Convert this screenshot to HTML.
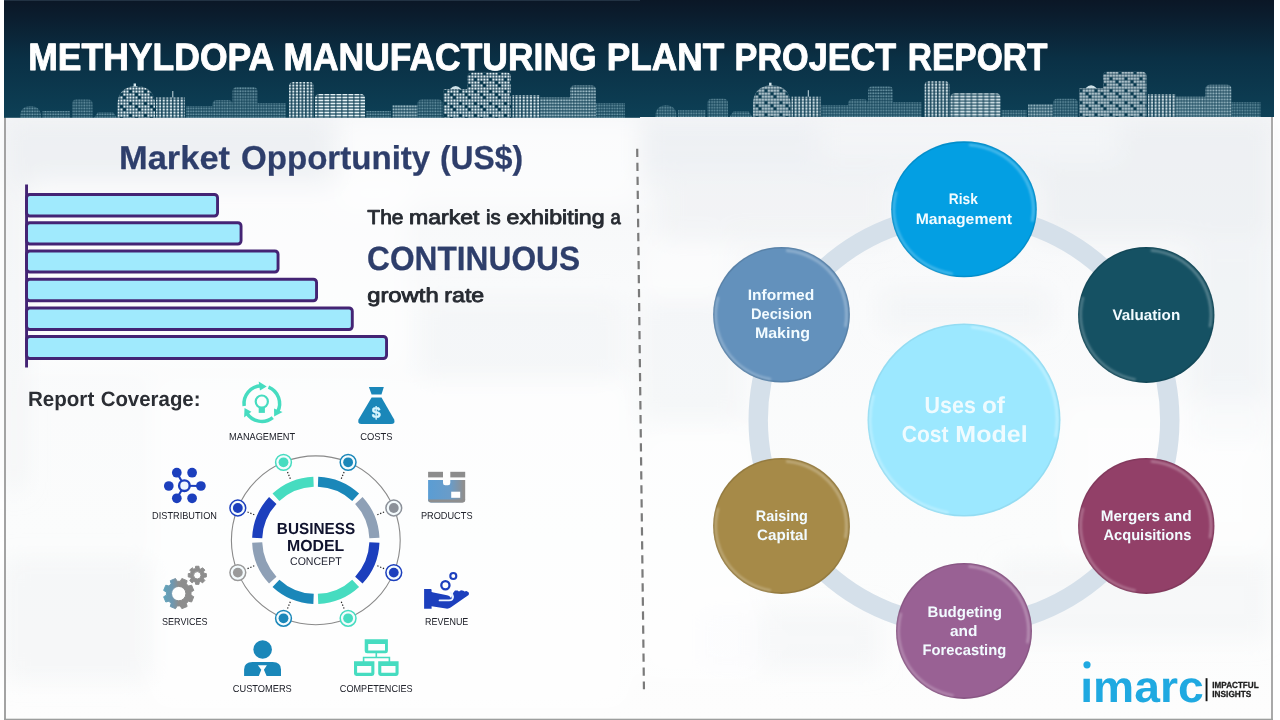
<!DOCTYPE html>
<html lang="en"><head><meta charset="utf-8"><title>Methyldopa Manufacturing Plant Project Report</title>
<style>html,body{margin:0;padding:0;background:#fff;overflow:hidden}svg{display:block}</style></head>
<body>
<svg width="1280" height="720" viewBox="0 0 1280 720" style="will-change:transform" text-rendering="geometricPrecision" font-family="'Liberation Sans', sans-serif">
<defs>
<linearGradient id="hdr" x1="0" y1="0" x2="0" y2="1">
 <stop offset="0" stop-color="#0b1726"/>
 <stop offset="0.14" stop-color="#0b1d2e"/>
 <stop offset="0.5" stop-color="#0a3045"/>
 <stop offset="1" stop-color="#0d4056"/>
</linearGradient>
<pattern id="winB" width="3" height="3" patternUnits="userSpaceOnUse"><rect x="0.4" y="0.5" width="2.1" height="2.1" fill="#e6f2f6"/></pattern>
<pattern id="winB2" width="15" height="12" patternUnits="userSpaceOnUse"><rect x="3" y="0" width="3" height="3" fill="#0d3d52"/><rect x="9" y="6" width="3" height="3" fill="#0d3d52"/><rect x="0" y="9" width="3" height="3" fill="#0d3d52"/></pattern>
<pattern id="winC" width="3.6" height="3" patternUnits="userSpaceOnUse"><rect x="0.6" y="0.5" width="2.2" height="2.1" fill="#dcebf0"/></pattern>
<pattern id="winS" width="6" height="3" patternUnits="userSpaceOnUse"><rect x="0.4" y="0.6" width="5" height="1.8" fill="#e4f1f5"/></pattern>
<pattern id="winD" width="2.6" height="2.9" patternUnits="userSpaceOnUse"><rect x="0.3" y="0.4" width="1.8" height="1.8" fill="#86afbd"/></pattern>
<pattern id="winM" width="2.8" height="3" patternUnits="userSpaceOnUse"><rect x="0.3" y="0.4" width="2" height="2" fill="#b4d0d9"/></pattern>

<linearGradient id="boxg" x1="0" y1="0" x2="1" y2="0"><stop offset="0" stop-color="#5a9dd4"/><stop offset="0.6" stop-color="#6a9cc8"/><stop offset="0.85" stop-color="#8393a2"/><stop offset="0.95" stop-color="#8f8f8f"/><stop offset="1" stop-color="#8f8f8f"/></linearGradient>
<linearGradient id="gearg" x1="0" y1="0" x2="1" y2="0"><stop offset="0" stop-color="#5fa3ba"/><stop offset="0.3" stop-color="#6f97b0"/><stop offset="0.5" stop-color="#8d8d8d"/><stop offset="1" stop-color="#8d8d8d"/></linearGradient>

<linearGradient id="bgg" x1="0" y1="0" x2="0" y2="1">
 <stop offset="0.16" stop-color="#f5f6f8"/><stop offset="0.4" stop-color="#f9fafb"/><stop offset="0.75" stop-color="#fbfcfc"/><stop offset="1" stop-color="#fdfdfd"/>
</linearGradient>
<filter id="blur6" x="-20%" y="-20%" width="140%" height="140%"><feGaussianBlur stdDeviation="12"/></filter>
<filter id="blur1" x="-10%" y="-10%" width="120%" height="120%"><feGaussianBlur stdDeviation="1.1"/></filter>
<g id="skyline"><path d="M20 117.8V116.5C20 109.675 24.2 106 30.5 106C36.8 106 41 109.675 41 116.5V117.8Z" fill="url(#winD)" opacity="0.8"/><path d="M42.5 117.8V111H70V117.8Z" fill="url(#winD)" opacity="0.8"/><path d="M72 117.8V104.0Q72 99.5 76.5 99.5H88.0Q92.5 99.5 92.5 104.0V117.8Z" fill="url(#winD)" opacity="0.8"/><path d="M94 117.8L98 112H113L117 117.8Z" fill="url(#winD)" opacity="0.8"/><path d="M117.5 117.8V104.75C117.5 92.5625 125.0 86 136.25 86C147.5 86 155 92.5625 155 104.75V117.8Z" fill="url(#winB)"/><path d="M117.5 117.8V104.75C117.5 92.5625 125.0 86 136.25 86C147.5 86 155 92.5625 155 104.75V117.8Z" fill="url(#winB2)"/><path d="M156 117.8V97.5H185V117.8Z" fill="url(#winC)"/><path d="M186 117.8V106H212.5V117.8Z" fill="url(#winD)" opacity="0.8"/><path d="M212.5 117.8V104.5Q212.5 100 217.0 100H228.0Q232.5 100 232.5 104.5V117.8Z" fill="url(#winD)" opacity="0.8"/><path d="M232.5 117.8V91.5Q232.5 87 237.0 87H253.0Q257.5 87 257.5 91.5V117.8Z" fill="url(#winD)" opacity="0.8"/><path d="M257.5 117.8V103H286V117.8Z" fill="url(#winD)" opacity="0.8"/><path d="M289 117.8V86.5Q289 82 293.5 82H309.5Q314 82 314 86.5V117.8Z" fill="url(#winC)"/><path d="M315 117.8V98.5Q315 94 319.5 94H360.5Q365 94 365 98.5V117.8Z" fill="url(#winS)"/><path d="M366 117.8V111H391V117.8Z" fill="url(#winD)" opacity="0.8"/><path d="M392.5 117.8V105H417.5V117.8Z" fill="url(#winM)" opacity="0.9"/><path d="M417.5 117.8V104.0Q417.5 99.5 422.0 99.5H438.0Q442.5 99.5 442.5 104.0V117.8Z" fill="url(#winD)" opacity="0.8"/><path d="M443.75 117.8V89H467.5V117.8Z" fill="url(#winB)"/><path d="M443.75 117.8V89H467.5V117.8Z" fill="url(#winB2)"/><path d="M467.5 117.8V77.0Q467.5 72.5 472.0 72.5H506.5Q511 72.5 511 77.0V117.8Z" fill="url(#winB)"/><path d="M467.5 117.8V77.0Q467.5 72.5 472.0 72.5H506.5Q511 72.5 511 77.0V117.8Z" fill="url(#winB2)"/><path d="M512.5 117.8V95H540V117.8Z" fill="url(#winC)"/><path d="M540 117.8V97.5H570V117.8Z" fill="url(#winM)" opacity="0.9"/><path d="M570 117.8V90.0Q570 85.5 574.5 85.5H591.5Q596 85.5 596 90.0V117.8Z" fill="url(#winM)" opacity="0.9"/><path d="M596 117.8V103H625V117.8Z" fill="url(#winD)" opacity="0.8"/><rect x="133.6" y="83.5" width="2.4" height="3" fill="#d7e8ee"/><rect x="172.3" y="91" width="1" height="6.5" fill="#c9dde4"/><path d="M450 89q5.6 -6 11.2 0z" fill="#cfe2e8"/></g><clipPath id="idot"><rect x="1076" y="676.6" width="134" height="32"/></clipPath></defs>
<rect x="0" y="0" width="1280" height="720" fill="#ffffff"/>
<rect x="4" y="0" width="1270" height="720" fill="url(#bgg)"/>
<g filter="url(#blur6)"><rect x="4" y="118" width="330" height="70" fill="#e7ebef" opacity="0.55"/><rect x="4" y="190" width="20" height="300" fill="#e7ebef" opacity="0.35"/><rect x="640" y="118" width="400" height="60" fill="#e7ebef" opacity="0.5"/><rect x="1040" y="118" width="232" height="120" fill="#e7ebef" opacity="0.55"/><rect x="660" y="180" width="230" height="60" fill="#e7ebef" opacity="0.35"/><rect x="1190" y="240" width="80" height="200" fill="#e7ebef" opacity="0.4"/><rect x="640" y="300" width="100" height="120" fill="#e7ebef" opacity="0.25"/><rect x="4" y="560" width="150" height="120" fill="#e7ebef" opacity="0.3"/><rect x="880" y="290" width="170" height="40" fill="#e7ebef" opacity="0.3"/><rect x="1000" y="560" width="270" height="80" fill="#e7ebef" opacity="0.25"/><rect x="420" y="300" width="200" height="80" fill="#e7ebef" opacity="0.25"/><rect x="700" y="610" width="180" height="60" fill="#e7ebef" opacity="0.25"/><rect x="340" y="118" width="300" height="90" fill="#ffffff" opacity="0.6"/><rect x="30" y="180" width="380" height="190" fill="#ffffff" opacity="0.55"/><rect x="640" y="430" width="120" height="250" fill="#ffffff" opacity="0.6"/><rect x="150" y="380" width="480" height="330" fill="#ffffff" opacity="0.6"/><rect x="1060" y="400" width="210" height="150" fill="#ffffff" opacity="0.5"/><rect x="820" y="120" width="300" height="40" fill="#ffffff" opacity="0.3"/><rect x="640" y="240" width="90" height="60" fill="#ffffff" opacity="0.4"/></g>
<rect x="4" y="117" width="2" height="603" fill="#a3a3a3"/>
<rect x="1271" y="117" width="2" height="603" fill="#a9a9a9"/>
<rect x="1273" y="117" width="1.2" height="603" fill="#ffffff"/>
<rect x="4" y="718.7" width="1269" height="1.3" fill="#9c9e9d"/>
<rect x="4" y="0" width="636" height="117.8" fill="url(#hdr)"/>
<rect x="639.5" y="0" width="634.5" height="117" fill="url(#hdr)"/>
<rect x="4" y="0" width="636" height="1" fill="#223243"/>
<use href="#skyline"/>
<use href="#skyline" transform="translate(635.5 -0.8)"/>
<g><text transform="translate(28.23 69.55) scale(0.9327 1)" font-size="38.08" font-weight="bold" fill="#ffffff" stroke="#ffffff" stroke-width="0.9" stroke-linejoin="round">METHYLDOPA</text> <text transform="translate(283.48 69.55) scale(0.9310 1)" font-size="38.08" font-weight="bold" fill="#ffffff" stroke="#ffffff" stroke-width="0.9" stroke-linejoin="round">MANUFACTURING</text> <text transform="translate(606.75 69.55) scale(0.9254 1)" font-size="38.08" font-weight="bold" fill="#ffffff" stroke="#ffffff" stroke-width="0.9" stroke-linejoin="round">PLANT</text> <text transform="translate(734.56 69.55) scale(0.8987 1)" font-size="38.08" font-weight="bold" fill="#ffffff" stroke="#ffffff" stroke-width="0.9" stroke-linejoin="round">PROJECT</text> <text transform="translate(907.76 69.55) scale(0.8797 1)" font-size="38.08" font-weight="bold" fill="#ffffff" stroke="#ffffff" stroke-width="0.9" stroke-linejoin="round">REPORT</text></g>
<g><text transform="translate(118.97 169.47) scale(1.0420 1)" font-size="33.07" font-weight="bold" fill="#2e3e6b" stroke="#2e3e6b" stroke-width="0.25" stroke-linejoin="round">Market</text> <text transform="translate(240.99 169.47) scale(1.0005 1)" font-size="33.07" font-weight="bold" fill="#2e3e6b" stroke="#2e3e6b" stroke-width="0.25" stroke-linejoin="round">Opportunity</text> <text transform="translate(439.88 169.47) scale(0.9629 1)" font-size="33.07" font-weight="bold" fill="#2e3e6b" stroke="#2e3e6b" stroke-width="0.25" stroke-linejoin="round">(US$)</text></g>
<rect x="25.1" y="184.5" width="2.9" height="183" fill="#442474"/>
<rect x="26.55" y="194.45" width="191.00" height="21.60" rx="3.2" fill="#a0eafd" stroke="#442474" stroke-width="2.9"/>
<rect x="26.55" y="222.70" width="214.50" height="21.35" rx="3.2" fill="#a0eafd" stroke="#442474" stroke-width="2.9"/>
<rect x="26.55" y="250.95" width="251.50" height="21.10" rx="3.2" fill="#a0eafd" stroke="#442474" stroke-width="2.9"/>
<rect x="26.55" y="279.20" width="290.00" height="21.60" rx="3.2" fill="#a0eafd" stroke="#442474" stroke-width="2.9"/>
<rect x="26.55" y="307.95" width="325.75" height="21.60" rx="3.2" fill="#a0eafd" stroke="#442474" stroke-width="2.9"/>
<rect x="26.55" y="336.45" width="360.00" height="22.10" rx="3.2" fill="#a0eafd" stroke="#442474" stroke-width="2.9"/>
<g><text transform="translate(367.35 224.17) scale(1.0506 1)" font-size="19.99" font-weight="normal" fill="#262a31" stroke="#262a31" stroke-width="0.85" stroke-linejoin="round">The</text> <text transform="translate(408.98 224.17) scale(1.1545 1)" font-size="19.99" font-weight="normal" fill="#262a31" stroke="#262a31" stroke-width="0.85" stroke-linejoin="round">market</text> <text transform="translate(486.05 224.17) scale(1.0232 1)" font-size="19.99" font-weight="normal" fill="#262a31" stroke="#262a31" stroke-width="0.85" stroke-linejoin="round">is</text> <text transform="translate(506.60 224.17) scale(1.1609 1)" font-size="19.99" font-weight="normal" fill="#262a31" stroke="#262a31" stroke-width="0.85" stroke-linejoin="round">exhibiting</text> <text transform="translate(610.45 224.17) scale(0.9230 1)" font-size="19.99" font-weight="normal" fill="#262a31" stroke="#262a31" stroke-width="0.85" stroke-linejoin="round">a</text></g>
<g><text transform="translate(367.03 269.57) scale(0.9420 1)" font-size="33.65" font-weight="bold" fill="#2e3e6b" stroke="#2e3e6b" stroke-width="0.25" stroke-linejoin="round">CONTINUOUS</text></g>
<g><text transform="translate(367.18 301.57) scale(1.1925 1)" font-size="19.99" font-weight="normal" fill="#262a31" stroke="#262a31" stroke-width="0.85" stroke-linejoin="round">growth</text> <text transform="translate(444.27 301.57) scale(1.1613 1)" font-size="19.99" font-weight="normal" fill="#262a31" stroke="#262a31" stroke-width="0.85" stroke-linejoin="round">rate</text></g>
<g><text transform="translate(27.91 405.70) scale(0.9913 1)" font-size="20.78" font-weight="bold" fill="#2b2e34" >Report</text> <text transform="translate(100.66 405.70) scale(0.9831 1)" font-size="20.78" font-weight="bold" fill="#2b2e34" >Coverage:</text></g>
<line x1="637.2" y1="148.75" x2="643.95" y2="689.3" stroke="#7a7a7a" stroke-width="2.2" stroke-dasharray="8.3 5.72"/>
<circle cx="315.8" cy="540.3" r="84.4" fill="none" stroke="#8a8a8a" stroke-width="1.1"/>
<path d="M318.25 476.65A63.7 63.7 0 0 1 359.08 493.56L352.22 500.97A53.6 53.6 0 0 0 317.86 486.74Z" fill="#1a87b9"/>
<path d="M362.54 497.02A63.7 63.7 0 0 1 379.45 537.85L369.36 538.24A53.6 53.6 0 0 0 355.13 503.88Z" fill="#8ea0b6"/>
<path d="M379.45 542.75A63.7 63.7 0 0 1 362.54 583.58L355.13 576.72A53.6 53.6 0 0 0 369.36 542.36Z" fill="#1c3fbd"/>
<path d="M359.08 587.04A63.7 63.7 0 0 1 318.25 603.95L317.86 593.86A53.6 53.6 0 0 0 352.22 579.63Z" fill="#46dcc0"/>
<path d="M313.35 603.95A63.7 63.7 0 0 1 272.52 587.04L279.38 579.63A53.6 53.6 0 0 0 313.74 593.86Z" fill="#1a87b9"/>
<path d="M269.06 583.58A63.7 63.7 0 0 1 252.15 542.75L262.24 542.36A53.6 53.6 0 0 0 276.47 576.72Z" fill="#8ea0b6"/>
<path d="M252.15 537.85A63.7 63.7 0 0 1 269.06 497.02L276.47 503.88A53.6 53.6 0 0 0 262.24 538.24Z" fill="#1c3fbd"/>
<path d="M272.52 493.56A63.7 63.7 0 0 1 313.35 476.65L313.74 486.74A53.6 53.6 0 0 0 279.38 500.97Z" fill="#46dcc0"/>
<line x1="344.08" y1="472.03" x2="341.13" y2="479.14" stroke="#222" stroke-width="1.2" stroke-dasharray="1.3 1.7"/>
<circle cx="348.10" cy="462.32" r="7.9" fill="#f4fbfd" stroke="#1a87b9" stroke-width="1.5"/>
<circle cx="348.10" cy="462.32" r="4.9" fill="#1a87b9"/>
<line x1="384.07" y1="512.02" x2="376.96" y2="514.97" stroke="#222" stroke-width="1.2" stroke-dasharray="1.3 1.7"/>
<circle cx="393.78" cy="508.00" r="7.9" fill="#f4fbfd" stroke="#8c9199" stroke-width="1.5"/>
<circle cx="393.78" cy="508.00" r="4.9" fill="#8c9199"/>
<line x1="384.07" y1="568.58" x2="376.96" y2="565.63" stroke="#222" stroke-width="1.2" stroke-dasharray="1.3 1.7"/>
<circle cx="393.78" cy="572.60" r="7.9" fill="#f4fbfd" stroke="#1c3fbd" stroke-width="1.5"/>
<circle cx="393.78" cy="572.60" r="4.9" fill="#1c3fbd"/>
<line x1="344.08" y1="608.57" x2="341.13" y2="601.46" stroke="#222" stroke-width="1.2" stroke-dasharray="1.3 1.7"/>
<circle cx="348.10" cy="618.28" r="7.9" fill="#f4fbfd" stroke="#46dcc0" stroke-width="1.5"/>
<circle cx="348.10" cy="618.28" r="4.9" fill="#46dcc0"/>
<line x1="287.52" y1="608.57" x2="290.47" y2="601.46" stroke="#222" stroke-width="1.2" stroke-dasharray="1.3 1.7"/>
<circle cx="283.50" cy="618.28" r="7.9" fill="#f4fbfd" stroke="#1a87b9" stroke-width="1.5"/>
<circle cx="283.50" cy="618.28" r="4.9" fill="#1a87b9"/>
<line x1="247.53" y1="568.58" x2="254.64" y2="565.63" stroke="#222" stroke-width="1.2" stroke-dasharray="1.3 1.7"/>
<circle cx="237.82" cy="572.60" r="7.9" fill="#f4fbfd" stroke="#9a9a9a" stroke-width="1.5"/>
<circle cx="237.82" cy="572.60" r="4.9" fill="#9a9a9a"/>
<line x1="247.53" y1="512.02" x2="254.64" y2="514.97" stroke="#222" stroke-width="1.2" stroke-dasharray="1.3 1.7"/>
<circle cx="237.82" cy="508.00" r="7.9" fill="#f4fbfd" stroke="#1c3fbd" stroke-width="1.5"/>
<circle cx="237.82" cy="508.00" r="4.9" fill="#1c3fbd"/>
<line x1="287.52" y1="472.03" x2="290.47" y2="479.14" stroke="#222" stroke-width="1.2" stroke-dasharray="1.3 1.7"/>
<circle cx="283.50" cy="462.32" r="7.9" fill="#f4fbfd" stroke="#46dcc0" stroke-width="1.5"/>
<circle cx="283.50" cy="462.32" r="4.9" fill="#46dcc0"/>
<text transform="translate(276.84 534.00) scale(0.9587 1)" font-size="15.99" font-weight="bold" fill="#10132e" >BUSINESS</text>
<text transform="translate(287.01 550.80) scale(0.9919 1)" font-size="15.99" font-weight="bold" fill="#10132e" >MODEL</text>
<text transform="translate(290.00 564.90) scale(0.9444 1)" font-size="11.19" font-weight="normal" fill="#1c1f2e" >CONCEPT</text>
<text transform="translate(229.08 439.80) scale(0.9193 1)" font-size="10.03" font-weight="normal" fill="#20222b" >MANAGEMENT</text>
<text transform="translate(360.16 439.80) scale(0.9389 1)" font-size="10.03" font-weight="normal" fill="#20222b" >COSTS</text>
<text transform="translate(152.08 518.75) scale(0.9174 1)" font-size="10.03" font-weight="normal" fill="#20222b" >DISTRIBUTION</text>
<text transform="translate(420.88 518.75) scale(0.9188 1)" font-size="10.03" font-weight="normal" fill="#20222b" >PRODUCTS</text>
<text transform="translate(162.02 624.70) scale(0.9016 1)" font-size="10.03" font-weight="normal" fill="#20222b" >SERVICES</text>
<text transform="translate(425.10 624.70) scale(0.8925 1)" font-size="10.03" font-weight="normal" fill="#20222b" >REVENUE</text>
<text transform="translate(232.76 692.00) scale(0.9253 1)" font-size="10.03" font-weight="normal" fill="#20222b" >CUSTOMERS</text>
<text transform="translate(339.82 692.00) scale(0.9093 1)" font-size="10.03" font-weight="normal" fill="#20222b" >COMPETENCIES</text>
<g id="icons"><path d="M244.17 406.08A17.8 17.8 0 0 1 261.18 385.81" fill="none" stroke="#46dcc0" stroke-width="3.5"/><path d="M266.71 386.49L259.96 390.53L258.68 381.42Z" fill="#46dcc0"/><path d="M268.47 387.10A17.8 17.8 0 0 1 277.52 411.96" fill="none" stroke="#46dcc0" stroke-width="3.5"/><path d="M274.16 416.40L274.04 408.54L282.57 411.99Z" fill="#46dcc0"/><path d="M272.76 417.63A17.8 17.8 0 0 1 246.70 413.03" fill="none" stroke="#46dcc0" stroke-width="3.5"/><path d="M244.53 407.91L251.40 411.73L244.15 417.39Z" fill="#46dcc0"/><circle cx="261.8" cy="401.6" r="6.1" fill="none" stroke="#46dcc0" stroke-width="2.2"/><path d="M258.7 407.5H264.9V412.9H258.7Z" fill="#46dcc0"/><path d="M368.9 387H383.8L381.5 394.4H371.6Z" fill="#1a87b9"/><path d="M371.6 397.5H381.5L394 419.2Q396 423.9 391 423.9H361.7Q356.7 423.9 358.7 419.2Z" fill="#1a87b9"/><text x="376.3" y="417.6" font-size="16" font-weight="bold" fill="#d9f6ff" stroke="#d9f6ff" stroke-width="0.4" text-anchor="middle">$</text><line x1="184.4" y1="485.7" x2="176.8" y2="472.7" stroke="#1c3fbd" stroke-width="2.1"/><line x1="184.4" y1="485.7" x2="200.9" y2="486" stroke="#1c3fbd" stroke-width="2.1"/><line x1="184.4" y1="485.7" x2="176.8" y2="498.3" stroke="#1c3fbd" stroke-width="2.1"/><circle cx="176.8" cy="472.7" r="4.85" fill="#1c3fbd"/><circle cx="192.1" cy="472.7" r="4.85" fill="#1c3fbd"/><circle cx="168.8" cy="486" r="4.85" fill="#1c3fbd"/><circle cx="200.9" cy="486" r="4.85" fill="#1c3fbd"/><circle cx="176.8" cy="498.3" r="4.85" fill="#1c3fbd"/><circle cx="192.1" cy="498.3" r="4.85" fill="#1c3fbd"/><circle cx="184.4" cy="485.7" r="5.3" fill="#eef6ff" stroke="#1c3fbd" stroke-width="2.4"/><rect x="428.1" y="471.8" width="14.9" height="5.6" fill="#8c8c8c"/><rect x="450.3" y="471.8" width="14.9" height="5.6" fill="#8c8c8c"/><path d="M428.1 480H443V483Q443 485.3 445.3 485.3H448Q450.3 485.3 450.3 483V480H465.2V499.4Q465.2 502.4 462.2 502.4H431.1Q428.1 502.4 428.1 499.4Z" fill="url(#boxg)"/><path d="M428.1 499.6H465.2V499.8Q465.2 502.4 462.2 502.4H431.1Q428.1 502.4 428.1 499.4Z" fill="#8e8e8e"/><rect x="451.2" y="491.7" width="9" height="6.1" fill="#ffffff"/><path d="M191.00 595.14L193.77 596.78L191.60 602.01L188.49 601.21L186.31 603.39L187.11 606.50L181.88 608.67L180.24 605.90L177.16 605.90L175.52 608.67L170.29 606.50L171.09 603.39L168.91 601.21L165.80 602.01L163.63 596.78L166.40 595.14L166.40 592.06L163.63 590.42L165.80 585.19L168.91 585.99L171.09 583.81L170.29 580.70L175.52 578.53L177.16 581.30L180.24 581.30L181.88 578.53L187.11 580.70L186.31 583.81L188.49 585.99L191.60 585.19L193.77 590.42L191.00 592.06ZM185.90 593.60A7.2 7.2 0 1 0 171.50 593.60A7.2 7.2 0 1 0 185.90 593.60Z" fill="url(#gearg)" fill-rule="evenodd" stroke="url(#gearg)" stroke-width="1" stroke-linejoin="round"/><path d="M204.15 573.42L206.34 573.61L206.34 576.99L204.15 577.18L203.47 578.81L204.89 580.50L202.50 582.89L200.81 581.47L199.18 582.15L198.99 584.34L195.61 584.34L195.42 582.15L193.79 581.47L192.10 582.89L189.71 580.50L191.13 578.81L190.45 577.18L188.26 576.99L188.26 573.61L190.45 573.42L191.13 571.79L189.71 570.10L192.10 567.71L193.79 569.13L195.42 568.45L195.61 566.26L198.99 566.26L199.18 568.45L200.81 569.13L202.50 567.71L204.89 570.10L203.47 571.79ZM201.00 575.30A3.7 3.7 0 1 0 193.60 575.30A3.7 3.7 0 1 0 201.00 575.30Z" fill="#8d8d8d" fill-rule="evenodd" stroke="#8d8d8d" stroke-width="1" stroke-linejoin="round"/><circle cx="445.4" cy="585.2" r="4.1" fill="none" stroke="#1c3fbd" stroke-width="2.3"/><circle cx="453.3" cy="576" r="3" fill="none" stroke="#1c3fbd" stroke-width="2.1"/><path d="M424.1 589.1H430.6Q431.6 589.1 431.6 590.1V592L433.5 592.4L447 595.2Q450.6 596 451 598.6L453.4 592.6L455 590.6L457.6 590.6L459 591.4L461 590.3L463.4 590.7L464.4 591.6L466.4 591L468.6 592.2Q469.4 593.6 468.6 595L450.6 607.6Q449 608.9 446 608.6L431.6 606.2V608.8H424.1Z" fill="#1c3fbd"/><path d="M439.6 600.4H449Q453.4 600.2 453 596.4Q452.6 593.6 450.4 592.6" fill="none" stroke="#eaf3ff" stroke-width="1.9" stroke-linecap="round"/><circle cx="262.65" cy="649.5" r="9.3" fill="#1a87b9"/><path d="M244.1 676.1V669.6Q244.1 662.1 252.6 662.1H272.6Q281 662.1 281 669.6V676.1H266.6L263.9 669.8L266.9 665.2H257.9L261.3 669.8L258.8 676.1Z" fill="#1a87b9"/><path d="M364.7 639.2H387.9V650.9Q387.9 653.3 385.5 653.3H367.1Q364.7 653.3 364.7 650.9ZM368.2 644.1V650.6H385V644.1Z" fill="#46dcc0" fill-rule="evenodd"/><path d="M376.3 653V657.5M363.6 662V657.5H389.4V662" fill="none" stroke="#46dcc0" stroke-width="1.6"/><path d="M354 661.3H374.4V673.5Q374.4 675.9 372.0 675.9H356.4Q354 675.9 354 673.5ZM357.1 665.9V672.8H371.29999999999995V665.9Z" fill="#46dcc0" fill-rule="evenodd"/><path d="M378.2 661.3H398.59999999999997V673.5Q398.59999999999997 675.9 396.2 675.9H380.59999999999997Q378.2 675.9 378.2 673.5ZM381.3 665.9V672.8H395.49999999999994V665.9Z" fill="#46dcc0" fill-rule="evenodd"/></g>
<circle cx="964" cy="420.2" r="205.8" fill="none" stroke="#d5e0ea" stroke-width="19.4"/>
<circle cx="964" cy="420" r="96.5" fill="#9ce8ff"/>
<ellipse cx="964" cy="420" rx="95.7" ry="95.7" fill="none" stroke="#000" stroke-opacity="0.05" stroke-width="1.6"/><path d="M972.11 327.25A93.10 93.10 0 0 1 1055.69 436.17" fill="none" stroke="#fff" stroke-opacity="0.35" stroke-width="2.6" stroke-linecap="round" filter="url(#blur1)"/><path d="M947.69 512.47A93.90 93.90 0 0 1 873.30 395.70" fill="none" stroke="#fff" stroke-opacity="0.32" stroke-width="2.4" stroke-linecap="round" filter="url(#blur1)"/>
<ellipse cx="964" cy="209.3" rx="72.8" ry="68" fill="#039fe3"/>
<ellipse cx="964" cy="209.3" rx="72.0" ry="67.2" fill="none" stroke="#000" stroke-opacity="0.1" stroke-width="1.6"/><path d="M970.05 144.95A69.40 64.60 0 0 1 1032.35 220.52" fill="none" stroke="#fff" stroke-opacity="0.3" stroke-width="2.6" stroke-linecap="round" filter="url(#blur1)"/><path d="M951.81 273.71A70.20 65.40 0 0 1 896.19 192.37" fill="none" stroke="#fff" stroke-opacity="0.27" stroke-width="2.4" stroke-linecap="round" filter="url(#blur1)"/>
<ellipse cx="1146.25" cy="314.9" rx="68.2" ry="68" fill="#155163"/>
<ellipse cx="1146.25" cy="314.9" rx="67.4" ry="67.2" fill="none" stroke="#000" stroke-opacity="0.1" stroke-width="1.6"/><path d="M1151.90 250.55A64.80 64.60 0 0 1 1210.07 326.12" fill="none" stroke="#fff" stroke-opacity="0.3" stroke-width="2.6" stroke-linecap="round" filter="url(#blur1)"/><path d="M1134.86 379.31A65.60 65.40 0 0 1 1082.89 297.97" fill="none" stroke="#fff" stroke-opacity="0.27" stroke-width="2.4" stroke-linecap="round" filter="url(#blur1)"/>
<ellipse cx="1146.25" cy="525.9" rx="68.2" ry="68" fill="#924068"/>
<ellipse cx="1146.25" cy="525.9" rx="67.4" ry="67.2" fill="none" stroke="#000" stroke-opacity="0.1" stroke-width="1.6"/><path d="M1151.90 461.55A64.80 64.60 0 0 1 1210.07 537.12" fill="none" stroke="#fff" stroke-opacity="0.3" stroke-width="2.6" stroke-linecap="round" filter="url(#blur1)"/><path d="M1134.86 590.31A65.60 65.40 0 0 1 1082.89 508.97" fill="none" stroke="#fff" stroke-opacity="0.27" stroke-width="2.4" stroke-linecap="round" filter="url(#blur1)"/>
<ellipse cx="964" cy="630.9" rx="68" ry="68" fill="#996194"/>
<ellipse cx="964" cy="630.9" rx="67.2" ry="67.2" fill="none" stroke="#000" stroke-opacity="0.1" stroke-width="1.6"/><path d="M969.63 566.55A64.60 64.60 0 0 1 1027.62 642.12" fill="none" stroke="#fff" stroke-opacity="0.3" stroke-width="2.6" stroke-linecap="round" filter="url(#blur1)"/><path d="M952.64 695.31A65.40 65.40 0 0 1 900.83 613.97" fill="none" stroke="#fff" stroke-opacity="0.27" stroke-width="2.4" stroke-linecap="round" filter="url(#blur1)"/>
<ellipse cx="781.5" cy="525.9" rx="68.4" ry="68" fill="#a68a48"/>
<ellipse cx="781.5" cy="525.9" rx="67.60000000000001" ry="67.2" fill="none" stroke="#000" stroke-opacity="0.1" stroke-width="1.6"/><path d="M787.17 461.55A65.00 64.60 0 0 1 845.51 537.12" fill="none" stroke="#fff" stroke-opacity="0.3" stroke-width="2.6" stroke-linecap="round" filter="url(#blur1)"/><path d="M770.07 590.31A65.80 65.40 0 0 1 717.94 508.97" fill="none" stroke="#fff" stroke-opacity="0.27" stroke-width="2.4" stroke-linecap="round" filter="url(#blur1)"/>
<ellipse cx="781.5" cy="314.8" rx="68.4" ry="67.8" fill="#6391bc"/>
<ellipse cx="781.5" cy="314.8" rx="67.60000000000001" ry="67.0" fill="none" stroke="#000" stroke-opacity="0.1" stroke-width="1.6"/><path d="M787.17 250.65A65.00 64.40 0 0 1 845.51 325.98" fill="none" stroke="#fff" stroke-opacity="0.3" stroke-width="2.6" stroke-linecap="round" filter="url(#blur1)"/><path d="M770.07 379.01A65.80 65.20 0 0 1 717.94 297.92" fill="none" stroke="#fff" stroke-opacity="0.27" stroke-width="2.4" stroke-linecap="round" filter="url(#blur1)"/>
<text transform="translate(948.84 204.40) scale(0.9105 1)" font-size="15.12" font-weight="bold" fill="#f2fbff" >Risk</text>
<text transform="translate(915.71 223.60) scale(1.0429 1)" font-size="15.12" font-weight="bold" fill="#f2fbff" >Management</text>
<text transform="translate(1112.50 320.25) scale(1.0080 1)" font-size="15.12" font-weight="bold" fill="#f2fbff" >Valuation</text>
<g><text transform="translate(1100.80 521.25) scale(1.0087 1)" font-size="15.12" font-weight="bold" fill="#f2fbff" >Mergers</text> <text transform="translate(1164.26 521.25) scale(1.0226 1)" font-size="15.12" font-weight="bold" fill="#f2fbff" >and</text></g>
<text transform="translate(1103.52 540.00) scale(0.9682 1)" font-size="15.12" font-weight="bold" fill="#f2fbff" >Acquisitions</text>
<text transform="translate(755.85 521.25) scale(0.9538 1)" font-size="15.12" font-weight="bold" fill="#f2fbff" >Raising</text>
<text transform="translate(757.03 540.00) scale(1.0044 1)" font-size="15.12" font-weight="bold" fill="#f2fbff" >Capital</text>
<text transform="translate(927.56 616.75) scale(0.9957 1)" font-size="15.12" font-weight="bold" fill="#f2fbff" >Budgeting</text>
<text transform="translate(950.01 636.25) scale(1.0226 1)" font-size="15.12" font-weight="bold" fill="#f2fbff" >and</text>
<text transform="translate(922.58 655.00) scale(0.9759 1)" font-size="15.12" font-weight="bold" fill="#f2fbff" >Forecasting</text>
<text transform="translate(747.63 299.90) scale(1.0310 1)" font-size="15.12" font-weight="bold" fill="#f2fbff" >Informed</text>
<text transform="translate(750.98 318.90) scale(0.9702 1)" font-size="15.12" font-weight="bold" fill="#f2fbff" >Decision</text>
<text transform="translate(754.90 337.80) scale(1.0586 1)" font-size="15.12" font-weight="bold" fill="#f2fbff" >Making</text>
<g><text transform="translate(924.59 412.75) scale(0.9281 1)" font-size="23.11" font-weight="bold" fill="#effbff" >Uses</text> <text transform="translate(981.99 412.75) scale(1.0544 1)" font-size="23.11" font-weight="bold" fill="#effbff" >of</text></g>
<g><text transform="translate(901.74 441.50) scale(0.9105 1)" font-size="23.11" font-weight="bold" fill="#effbff" >Cost</text> <text transform="translate(955.34 441.50) scale(1.0821 1)" font-size="23.11" font-weight="bold" fill="#effbff" >Model</text></g>
<g clip-path="url(#idot)"><text transform="translate(1080.21 702.20) scale(1.0522 1)" font-size="44.00" font-weight="bold" fill="#1fa9e1" >imarc</text></g>
<circle cx="1087.0" cy="664.8" r="3.6" fill="#1fa9e1"/>
<rect x="1205.6" y="678.2" width="1.9" height="23" fill="#111"/>
<g><text transform="translate(1212.34 687.85) scale(0.9166 1)" font-size="8.87" font-weight="bold" fill="#1c1c1c" stroke="#1c1c1c" stroke-width="0.3" stroke-linejoin="round">IMPACTFUL</text></g>
<g><text transform="translate(1212.33 697.45) scale(0.9322 1)" font-size="8.87" font-weight="bold" fill="#1c1c1c" stroke="#1c1c1c" stroke-width="0.3" stroke-linejoin="round">INSIGHTS</text></g>
</svg>
</body></html>
